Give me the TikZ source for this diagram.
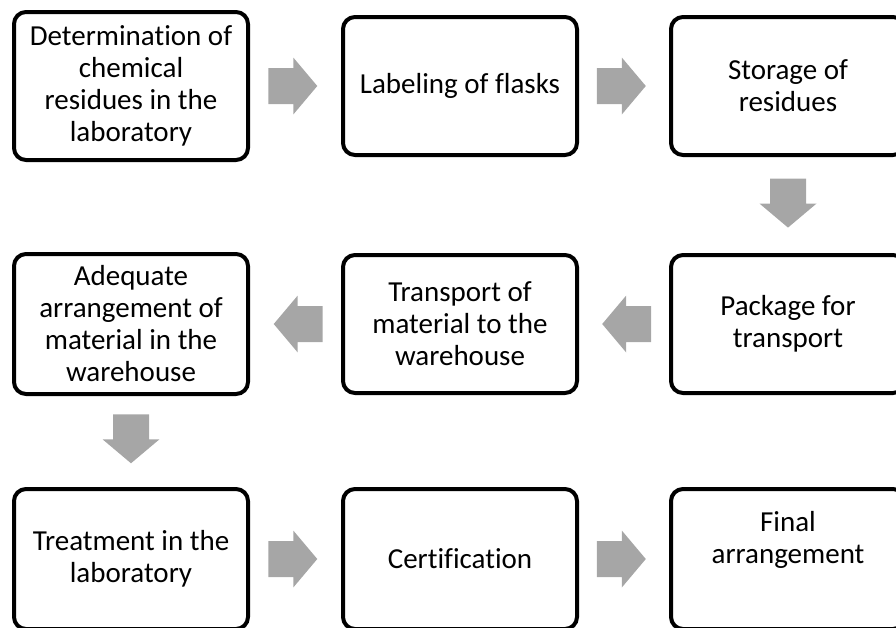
\documentclass[tikz,border=0pt]{standalone}
\usepackage{fontspec}
\setmainfont{Carlito}[Ligatures=NoCommon]
\definecolor{arrowgray}{HTML}{A6A6A6}
\begin{document}
\begin{tikzpicture}[x=1pt,y=-1pt,
  stepbox/.style={draw=black, line width=4pt, rounded corners=12pt, fill=white,
    minimum width=234pt, minimum height=138pt, align=center, inner sep=0pt,
    font=\fontsize{29}{32}\selectfont},
  pics/blockarrow/.style={code={
    \fill[arrowgray] (-24.5,-18) -- (0.5,-18) -- (0.5,-28.5) -- (24.5,0)
      -- (0.5,28.5) -- (0.5,18) -- (-24.5,18) -- cycle;}}
]
\useasboundingbox (0,0) rectangle (896,627);
\clip (0,0) rectangle (896,627);
% row 1
\node[stepbox, minimum height=148pt] (b1) at (131,86) {Determination of\\chemical\\residues in the\\laboratory};
\node[stepbox] (b2) at (460,86) {Labeling of flasks};
\node[stepbox] (b3) at (788,86) {Storage of\\residues};
% row 2
\node[stepbox, minimum height=140pt] (b4) at (131,324) {Adequate\\arrangement of\\material in the\\warehouse};
\node[stepbox] (b5) at (460,324) {Transport of\\material to the\\warehouse};
\node[stepbox] (b6) at (788,324) {Package for\\transport};
% row 3
\node[stepbox, minimum height=140pt] (b7) at (131,559) {Treatment in the\\laboratory};
\node[stepbox, minimum height=140pt] (b8) at (460,559) {Certification};
\node[stepbox, minimum height=140pt, text depth=44pt] (b9) at (788,559) {Final\\arrangement};
% arrows
\path (b1.east) -- (b2.west) coordinate[pos=0.47] (m12);
\path (b2.east) -- (b3.west) coordinate[pos=0.47] (m23);
\path (b3.south) -- (b6.north) coordinate[pos=0.48] (m36);
\path (b6.west) -- (b5.east) coordinate[pos=0.47] (m65);
\path (b5.west) -- (b4.east) coordinate[pos=0.47] (m54);
\path (b4.south) -- (b7.north) coordinate[pos=0.47] (m47);
\path (b7.east) -- (b8.west) coordinate[pos=0.47] (m78);
\path (b8.east) -- (b9.west) coordinate[pos=0.47] (m89);
\pic at (m12) {blockarrow};
\pic at (m23) {blockarrow};
\pic[rotate=-90] at (m36) {blockarrow};
\pic[rotate=180] at (m65) {blockarrow};
\pic[rotate=180] at (m54) {blockarrow};
\pic[rotate=-90] at (m47) {blockarrow};
\pic at (m78) {blockarrow};
\pic at (m89) {blockarrow};
\end{tikzpicture}
\end{document}
